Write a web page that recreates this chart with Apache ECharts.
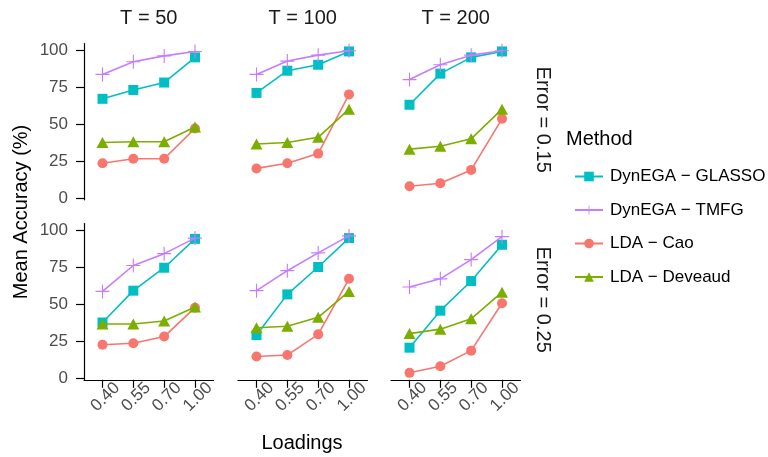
<!DOCTYPE html>
<html>
<head>
<meta charset="utf-8">
<script src="https://cdn.jsdelivr.net/npm/echarts@6/dist/echarts.min.js"></script>
<style>html,body{margin:0;padding:0;background:#fff}#c{width:768px;height:457px}</style>
</head>
<body>
<div id="c"></div>
<script>
// ---- data ----
const loadings = ['0.40', '0.55', '0.70', '1.00'];
const tLabels = ['T = 50', 'T = 100', 'T = 200'];
const errorLabels = ['Error = 0.15', 'Error = 0.25'];
const methods = ['DynEGA \u2212 GLASSO', 'DynEGA \u2212 TMFG', 'LDA \u2212 Cao', 'LDA \u2212 Deveaud'];
const yTicks = [0, 25, 50, 75, 100];

// Error = 0.15, one row per T (50, 100, 200)
const glassoE15 = [[67, 73, 78, 95], [71, 86, 90, 99], [63, 84, 95, 99]];
const tmfgE15 = [[83.5, 92, 96, 99], [83.5, 92.5, 96.5, 99.5], [80, 90, 96.5, 99.5]];
const caoE15 = [[23.5, 26.5, 26.5, 47], [20, 23.5, 30, 70], [8, 10, 19, 53.5]];
const deveaudE15 = [[37.5, 38, 38, 48], [36.5, 37.5, 41, 60], [33, 35, 40, 60]];
// Error = 0.25
const glassoE25 = [[37.5, 59, 74.5, 94], [29, 56.5, 75, 94.5], [20.5, 45.5, 65.5, 90]];
const tmfgE25 = [[58.5, 76, 84, 94.5], [59, 72.5, 84.5, 96], [61.5, 67, 80, 95.5]];
const caoE25 = [[22.5, 23.5, 28, 47.5], [14.5, 15.5, 29.5, 67], [3.5, 8, 18.5, 50.5]];
const deveaudE25 = [[36.5, 36.5, 38.5, 48], [34, 35, 41, 58.5], [30, 33, 40, 58]];

// ---- styling ----
const colors = ['#00BFC4', '#C77CFF', '#F8766D', '#7CAE00'];
const plusPath = 'path://M4.6,0H5.4V4.6H10V5.4H5.4V10H4.6V5.4H0V4.6H4.6Z';
const symbols = ['rect', plusPath, 'circle', 'triangle'];
const symbolSizes = [10, 14, 10, [12, 11]];
const FONT = 'Liberation Sans, Arial, Helvetica, sans-serif';

const rowsData = [
  [glassoE15, tmfgE15, caoE15, deveaudE15],
  [glassoE25, tmfgE25, caoE25, deveaudE25]
];

const colLeft = [84, 238, 391];
const colWidth = 129.5;
const rowTop = [43.6, 223.6];
const rowHeight = 156.2;

const grids = [], xAxes = [], yAxes = [], series = [];
for (let r = 0; r < 2; r++) {
  for (let c = 0; c < 3; c++) {
    const idx = r * 3 + c;
    grids.push({ left: colLeft[c], top: rowTop[r], width: colWidth, height: rowHeight, containLabel: false });
    const showX = r === 1;
    xAxes.push({
      type: 'value', gridIndex: idx, min: 0.4, max: 4.6,
      show: showX,
      axisLine: { show: true, onZero: false, lineStyle: { color: '#000', width: 1.2 } },
      axisTick: { show: true, length: 8, customValues: [1, 2, 3, 4], lineStyle: { color: '#000', width: 1.2 } },
      axisLabel: {
        show: true, customValues: [1, 2, 3, 4], rotate: 45, margin: 20,
        align: 'center', verticalAlign: 'middle', padding: [22, 0, 0, 8],
        fontSize: 17, color: '#4D4D4D', fontFamily: FONT,
        formatter: v => loadings[Math.round(v) - 1]
      },
      splitLine: { show: false }
    });
    const showY = c === 0;
    yAxes.push({
      type: 'value', gridIndex: idx, min: -1.2, max: 104.3,
      show: showY,
      axisLine: { show: true, onZero: false, lineStyle: { color: '#000', width: 1.2 } },
      axisTick: { show: true, length: 8, customValues: yTicks, lineStyle: { color: '#000', width: 1.2 } },
      axisLabel: { show: true, customValues: yTicks, margin: 16, fontSize: 17, color: '#4D4D4D', fontFamily: FONT },
      splitLine: { show: false }
    });
    for (let m = 0; m < 4; m++) {
      const vals = rowsData[r][m][c];
      series.push({
        type: 'line', name: methods[m], xAxisIndex: idx, yAxisIndex: idx,
        data: vals.map((v, i) => [i + 1, v]),
        symbol: symbols[m], symbolSize: symbolSizes[m],
        showAllSymbol: true,
        lineStyle: { color: colors[m], width: 1.6 },
        itemStyle: { color: colors[m], opacity: 1 },
        z: 2 + m,
        animation: false,
        emphasis: { disabled: true }
      });
    }
  }
}

const graphics = [];
tLabels.forEach((t, c) => {
  graphics.push({ type: 'text', x: colLeft[c] + colWidth / 2, y: 18,
    style: { text: t, font: '20px ' + FONT, fill: '#1A1A1A', align: 'center', verticalAlign: 'middle' } });
});
errorLabels.forEach((e, r) => {
  graphics.push({ type: 'text', x: 543, y: rowTop[r] + rowHeight / 2 - 2, rotation: -Math.PI / 2,
    style: { text: e, font: '20px ' + FONT, fill: '#1A1A1A', align: 'center', verticalAlign: 'middle' } });
});
graphics.push({ type: 'text', x: 302, y: 443,
  style: { text: 'Loadings', font: '20px ' + FONT, fill: '#000', align: 'center', verticalAlign: 'middle' } });
graphics.push({ type: 'text', x: 21, y: 212, rotation: Math.PI / 2,
  style: { text: 'Mean Accuracy (%)', font: '20px ' + FONT, fill: '#000', align: 'center', verticalAlign: 'middle' } });
graphics.push({ type: 'text', x: 566, y: 139,
  style: { text: 'Method', font: '20px ' + FONT, fill: '#000', align: 'left', verticalAlign: 'middle' } });

const chart = echarts.init(document.getElementById('c'), null, { renderer: 'canvas' });
chart.setOption({
  animation: false,
  backgroundColor: '#fff',
  grid: grids,
  xAxis: xAxes,
  yAxis: yAxes,
  series: series,
  legend: {
    data: methods, orient: 'vertical', left: 569, top: 163,
    itemWidth: 28, itemHeight: 12, itemGap: 16.5,
    selectedMode: false,
    textStyle: { fontSize: 17, lineHeight: 17, color: '#000', fontFamily: FONT, padding: [0, 0, 0, 2] }
  },
  graphic: graphics
});
</script>
</body>
</html>
